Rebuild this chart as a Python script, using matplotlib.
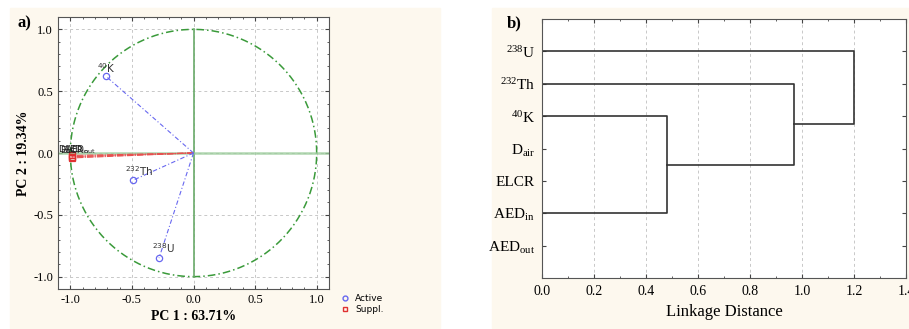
import numpy as np
import matplotlib.pyplot as plt
from matplotlib.patches import Rectangle
from matplotlib.ticker import MultipleLocator

plt.rcParams['mathtext.default'] = 'regular'

# PCA loadings (panel a)
active_names = ['$^{40}$K', '$^{232}$Th', '$^{238}$U']
active_pc1 = [-0.71, -0.49, -0.28]
active_pc2 = [0.62, -0.22, -0.85]
suppl_names = ['D$_{air}$', 'ELCR', 'AED$_{in}$', 'AED$_{out}$']
suppl_pc1 = [-0.99, -0.99, -0.99, -0.99]
suppl_pc2 = [-0.02, -0.03, -0.03, -0.04]

# Cluster tree (panel b)
leaf_labels = ['$^{238}$U', '$^{232}$Th', '$^{40}$K', 'D$_{air}$', 'ELCR',
               'AED$_{in}$', 'AED$_{out}$']
# (node, node, linkage distance); ints are leaves, 'mN' is merge N
merges = [(2, 5, 0.48), (1, 'm0', 0.97), (0, 'm1', 1.20)]

cream = '#fdf8ee'
serif = 'Liberation Serif'
blue = '#6868f0'

fig = plt.figure(figsize=(9.09, 3.29), dpi=100)
fig.patches.append(Rectangle((10/909, 1-328/329), 430/909, 320/329,
                             transform=fig.transFigure, color=cream, zorder=-10))
fig.patches.append(Rectangle((492/909, 1-328/329), 417/909, 320/329,
                             transform=fig.transFigure, color=cream, zorder=-10))

# ---- panel a ----
ax = fig.add_axes([58/909, 1-289/329, 271/909, 272/329])
ax.set_xlim(-1.1, 1.1)
ax.set_ylim(-1.1, 1.1)
ax.grid(True, color='#c8c8c8', ls=(0, (3, 3)), lw=0.7)
t = np.linspace(0, 2*np.pi, 400)
ax.plot(np.cos(t), np.sin(t), color='#3a9a3a', ls=(0, (5, 2, 1, 2)), lw=1.1)
ax.plot([0, 0], [-1, 1], color='#6aaa6a', lw=1.2)
ax.axhline(0, color='#9ccc9c', lw=1.8, alpha=0.8)
for x, y in zip(suppl_pc1, suppl_pc2):
    ax.plot([0, x], [0, y], color='#e85050', lw=0.8, ls=(0, (6, 1, 1, 1)))
for x, y in zip(active_pc1, active_pc2):
    ax.plot([0, x], [0, y], color=blue, lw=0.8, ls=(0, (4, 2, 1, 2)))
ax.plot(active_pc1, active_pc2, 'o', mfc='none', mec=blue, ms=4.5, mew=0.9)
ax.plot(suppl_pc1, suppl_pc2, 's', mfc='none', mec='#e03030', ms=5, mew=0.9)
offs = [(-0.07, 0.03), (-0.07, 0.03), (-0.06, 0.04)]
for n, x, y, (dx, dy) in zip(active_names, active_pc1, active_pc2, offs):
    ax.text(x + dx, y + dy, n, fontsize=7.5, color='#333333',
            family='DejaVu Sans')
for i, n in enumerate(suppl_names):
    ax.text(-1.1 + 0.02*i, 0.0, n, fontsize=6.5, color='#222222',
            family='DejaVu Sans')
ax.set_xticks([-1.0, -0.5, 0.0, 0.5, 1.0])
ax.set_yticks([-1.0, -0.5, 0.0, 0.5, 1.0])
ax.xaxis.set_minor_locator(MultipleLocator(0.1))
ax.yaxis.set_minor_locator(MultipleLocator(0.1))
ax.set_xticklabels(['-1.0', '-0.5', '0.0', '0.5', '1.0'], family=serif, fontsize=9)
ax.set_yticklabels(['-1.0', '-0.5', '0.0', '0.5', '1.0'], family=serif, fontsize=9)
ax.tick_params(which='both', direction='in', top=True, right=True,
               colors='#444444', labelcolor='black')
ax.tick_params(which='major', length=3)
ax.tick_params(which='minor', length=1.5)
ax.set_xlabel('PC 1 : 63.71%', family=serif, fontsize=10, weight='bold', labelpad=3)
ax.set_ylabel('PC 2 : 19.34%', family=serif, fontsize=10, weight='bold', labelpad=2)
for s in ax.spines.values():
    s.set_color('#555555')
ax.plot([], [], 'o', mfc='none', mec=blue, ms=3.5, label='Active')
ax.plot([], [], 's', mfc='none', mec='#e03030', ms=3.5, label='Suppl.')
ax.legend(loc='upper left', bbox_to_anchor=(1.03, -0.005), frameon=False,
          fontsize=6.5, handletextpad=0.6, labelspacing=0.2,
          handlelength=1.0, borderaxespad=0)
fig.text(17/909, 1-23/329, 'a)', family=serif, fontsize=12, weight='bold',
         va='center')

# ---- panel b ----
bx = fig.add_axes([542/909, 1-278/329, 364/909, 259/329])
bx.set_xlim(0, 1.4)
bx.set_ylim(len(leaf_labels) + 1, 0)
bx.grid(True, axis='x', color='#c8c8c8', ls=(0, (3, 3)), lw=0.7)
pos = {i: (i + 1, 0.0) for i in range(len(leaf_labels))}
for k, (a, b, h) in enumerate(merges):
    ya, ha = pos[a]
    yb, hb = pos[b]
    bx.plot([ha, h, h, hb], [ya, ya, yb, yb], color='#333333', lw=1.2)
    pos['m%d' % k] = ((ya + yb) / 2, h)
bx.set_yticks(range(1, len(leaf_labels) + 1))
bx.set_yticklabels(leaf_labels, family=serif, fontsize=11)
xt = np.arange(0, 1.41, 0.2)
bx.set_xticks(xt)
bx.set_xticklabels(['%.1f' % v for v in xt], family=serif, fontsize=10)
bx.xaxis.set_minor_locator(MultipleLocator(0.1))
bx.tick_params(which='both', direction='in', top=True, right=True,
               colors='#444444', labelcolor='black')
bx.tick_params(which='major', length=3, pad=5)
bx.tick_params(which='minor', length=1.5)
bx.set_xlabel('Linkage Distance', family=serif, fontsize=12, labelpad=4)
for s in bx.spines.values():
    s.set_color('#555555')
fig.text(507/909, 1-23/329, 'b)', family=serif, fontsize=12, weight='bold',
         va='center')

fig.savefig('out.png', dpi=100)
